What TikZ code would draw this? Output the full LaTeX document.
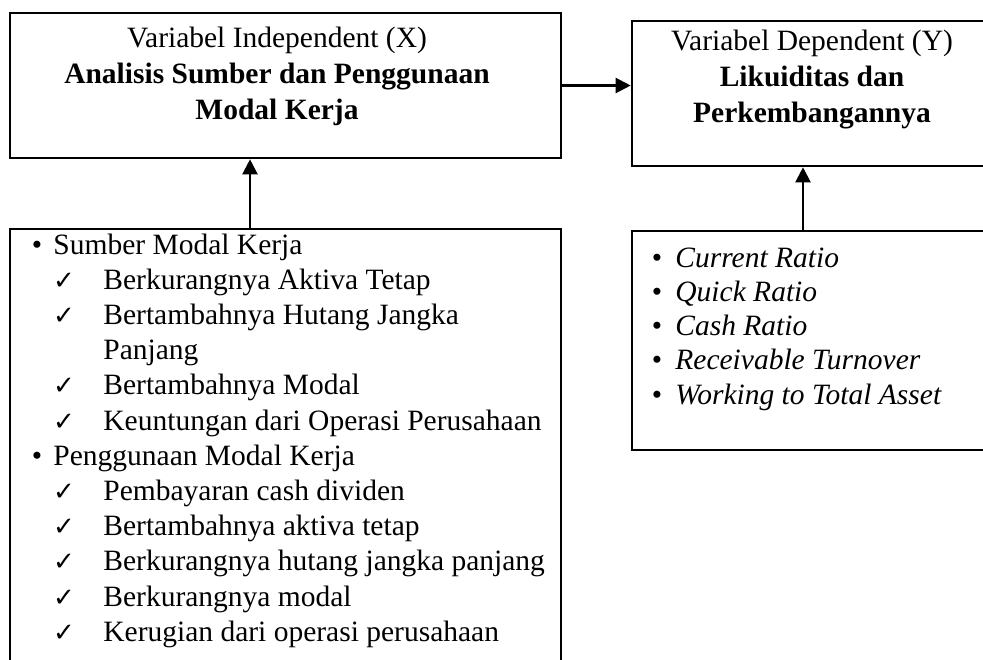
\documentclass[tikz,border=0pt]{standalone}
\usepackage{fontspec}
\setmainfont{Liberation Serif}
\newfontfamily\symfont{DejaVu Sans}
\usetikzlibrary{arrows.meta,fit}

\tikzset{
  box/.style={draw, line width=1.3pt, inner sep=0pt},
  txt/.style={inner sep=0pt, font=\fontsize{14.75}{17}\selectfont},
  chk/.style={inner sep=0pt, font=\symfont\fontsize{13}{13}\selectfont},
  arr/.style={line width=1.1pt, -{Triangle[length=7.5pt,width=7.5pt]}},
}

\begin{document}
\begin{tikzpicture}[x=0.5pt, y=-0.5pt]
    \useasboundingbox (0,0) rectangle (983,659);
    % boxes
    \node[box, fit={(10,13) (561,158)}] (indep) {};
    \node[box, fit={(632,21) (990,166)}] (dep) {};
    \node[box, fit={(10,229) (561,672)}] (sumber) {};
    \node[box, fit={(632,231) (990,450)}] (rasio) {};
    % variabel X
    \node[txt, anchor=base] (x1) at (277,47) {Variabel Independent (X)};
    \node[txt, anchor=base] (x2) at (277,83) {\bfseries Analisis Sumber dan Penggunaan};
    \node[txt, anchor=base] (x3) at (277,119) {\bfseries Modal Kerja};
    % variabel Y
    \node[txt, anchor=base] (y1) at (812,50) {Variabel Dependent (Y)};
    \node[txt, anchor=base] (y2) at (812,86) {\bfseries Likuiditas dan};
    \node[txt, anchor=base] (y3) at (812,122) {\bfseries Perkembangannya};
    % sumber dan penggunaan modal kerja
    \node[txt, anchor=base] (d1) at (37,254) {•};
    \node[txt, anchor=base west] (s1) at (53,254) {Sumber Modal Kerja};
    \node[txt, anchor=base] (d7) at (37,465.2) {•};
    \node[txt, anchor=base west] (s7) at (53,465.2) {Penggunaan Modal Kerja};
    \foreach \i in {2,3,5,6,8,9,10,11,12}
        \node[chk, anchor=base] (c\i) at (64,{254+35.2*(\i-1)}) {✓};
    \foreach \i/\t in {2/Berkurangnya Aktiva Tetap, 3/Bertambahnya Hutang Jangka, 4/Panjang,
        5/Bertambahnya Modal, 6/Keuntungan dari Operasi Perusahaan,
        8/Pembayaran cash dividen, 9/Bertambahnya aktiva tetap,
        10/Berkurangnya hutang jangka panjang, 11/Berkurangnya modal,
        12/Kerugian dari operasi perusahaan}
        \node[txt, anchor=base west] (s\i) at (103,{254+35.2*(\i-1)}) {\t};
    % rasio likuiditas
    \foreach \i/\t in {1/Current Ratio, 2/Quick Ratio, 3/Cash Ratio,
        4/Receivable Turnover, 5/Working to Total Asset} {
        \node[txt, anchor=base] (e\i) at (657,{267+34.3*(\i-1)}) {•};
        \node[txt, anchor=base west] (r\i) at (675,{267+34.3*(\i-1)}) {\itshape \t};
    }
    % panah
    \coordinate (kiri) at (250,229);
    \coordinate (kanan) at (803,231);
    \draw[arr] (indep.east) -- (indep.east -| dep.west);
    \draw[arr] (sumber.north -| kiri) -- (indep.south -| kiri);
    \draw[arr] (rasio.north -| kanan) -- (dep.south -| kanan);
\end{tikzpicture}
\end{document}
